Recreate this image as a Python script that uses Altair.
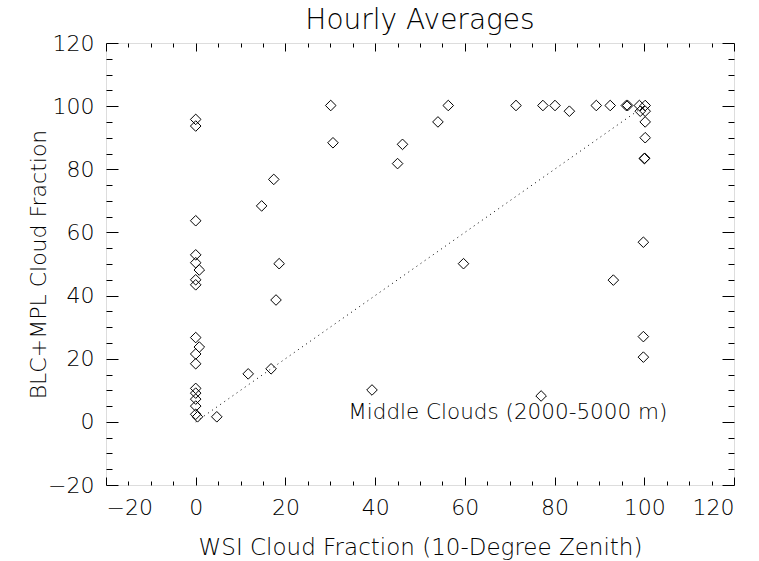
import altair as alt
import pandas as pd

# WSI (10-degree zenith) vs BLC+MPL cloud fraction, hourly averages, middle clouds
wsi = [0, 0, 0, 0, 0, 0.8, 0, 0, 0, 0.8, 0, 0, 0, 0, 0, 0, 0, 0.4,
       4.7, 11.7, 14.7, 16.8, 17.4, 18.6, 17.9, 30.1, 30.6, 39.3, 45.0, 46.1,
       54.0, 56.3, 59.7, 71.4, 77.0, 77.4, 80.1, 83.3, 89.3, 92.4, 93.1,
       96.0, 96.3, 98.9, 100.2, 99.1, 100.2, 100.2, 100.2, 100.0, 100.1,
       99.8, 99.8, 99.8]
blc = [95.8, 93.7, 63.7, 52.9, 50.4, 48.1, 45.0, 43.4, 26.7, 23.7, 21.5, 18.4,
       10.6, 9.1, 7.2, 5.0, 2.4, 1.6,
       1.6, 15.2, 68.4, 16.8, 76.8, 50.1, 38.6, 100.2, 88.4, 10.1, 81.8, 87.9,
       95.0, 100.2, 50.1, 100.2, 8.2, 100.2, 100.2, 98.4, 100.2, 100.2, 44.9,
       100.2, 100.2, 100.2, 100.2, 98.4, 98.4, 95.0, 90.0, 83.4, 83.5,
       56.9, 27.0, 20.5]

# one-to-one reference line
diag_x = [0, 100]
diag_y = [0, 100]

note_text = ["Middle Clouds (2000-5000 m)"]
note_x = [34.0]
note_y = [2.8]

major_ticks = list(range(-20, 121, 20))
minor_ticks = [v for v in range(-20, 121, 5) if v % 20]

FONT = "DejaVu Sans"
WEIGHT = 200
W, H = 628, 442

pts = pd.DataFrame({"wsi": wsi, "blc": blc})
diag = pd.DataFrame({"wsi": diag_x, "blc": diag_y})
note = pd.DataFrame({"wsi": note_x, "blc": note_y, "label": note_text})

xscale = alt.Scale(domain=[-20, 120], nice=False, zero=False)
yscale = alt.Scale(domain=[-20, 120], nice=False, zero=False)


def tick_axis(orient, values, length):
    # inward-pointing ticks: shift the axis inside the frame by its tick length
    return alt.Axis(orient=orient, values=values, offset=-length, tickSize=length,
                    tickColor="black", tickWidth=1, labels=False, domain=False,
                    grid=False, title=None)


def tick_layer(xo, yo, values, xlen, ylen):
    return alt.Chart(diag).mark_point(opacity=0, size=1).encode(
        x=alt.X("wsi:Q", scale=xscale, axis=tick_axis(xo, values, xlen)),
        y=alt.Y("blc:Q", scale=yscale, axis=tick_axis(yo, values, ylen)),
    )


points = alt.Chart(pts).mark_point(
    shape="diamond", size=112, filled=False, stroke="black", strokeWidth=1, opacity=1
).encode(
    x=alt.X("wsi:Q", scale=xscale, axis=alt.Axis(
        orient="bottom", values=major_ticks, ticks=False, tickSize=0, domain=False,
        grid=False, labelFont=FONT, labelFontSize=22, labelFontWeight=WEIGHT,
        labelColor="black", labelPadding=12,
        title="WSI Cloud Fraction (10-Degree Zenith)", titleFont=FONT,
        titleFontSize=23, titleFontWeight=WEIGHT, titleColor="black",
        titleX=W / 2, titleY=62, titleBaseline="middle", titleAlign="center")),
    y=alt.Y("blc:Q", scale=yscale, axis=alt.Axis(
        orient="left", values=major_ticks, ticks=False, tickSize=0, domain=False,
        grid=False, labelFont=FONT, labelFontSize=22, labelFontWeight=WEIGHT,
        labelColor="black", labelPadding=12,
        title="BLC+MPL Cloud Fraction", titleFont=FONT, titleFontSize=22,
        titleFontWeight=WEIGHT, titleColor="black", titleAngle=-90,
        titleX=-68, titleY=H / 2, titleBaseline="middle", titleAlign="center")),
)

line = alt.Chart(diag).mark_line(
    stroke="black", strokeWidth=1, strokeDash=[1, 4]
).encode(
    x=alt.X("wsi:Q", scale=xscale, axis=None),
    y=alt.Y("blc:Q", scale=yscale, axis=None),
)

label = alt.Chart(note).mark_text(
    align="left", baseline="middle", font=FONT, fontSize=21.5, fontWeight=WEIGHT,
    color="black"
).encode(
    x=alt.X("wsi:Q", scale=xscale, axis=None),
    y=alt.Y("blc:Q", scale=yscale, axis=None),
    text="label:N",
)

chart = alt.layer(
    line,
    points,
    label,
    tick_layer("bottom", "left", major_ticks, 8, 12),
    tick_layer("bottom", "left", minor_ticks, 4, 6),
    tick_layer("top", "right", major_ticks, 8, 12),
    tick_layer("top", "right", minor_ticks, 4, 6),
).resolve_axis(
    x="independent", y="independent"
).properties(
    width=W,
    height=H,
    autosize=alt.AutoSizeParams(type="none"),
    padding={"left": 106, "top": 43, "right": 25, "bottom": 76},
    title=alt.Title("Hourly Averages", font=FONT, fontSize=28, fontWeight=WEIGHT,
                    color="black", anchor="middle", frame="group", offset=-3),
).configure_view(
    stroke="black", strokeWidth=1
).configure(background="white")

chart.save("out.html", embed_options={"renderer": "svg", "actions": False})
